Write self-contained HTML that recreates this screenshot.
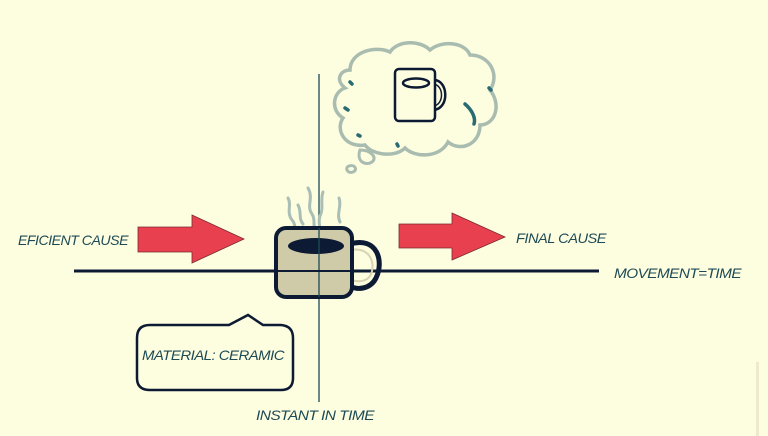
<!DOCTYPE html>
<html><head><style>
html,body{margin:0;padding:0;background:#fdfde0;}
svg{display:block}
text{font-family:"Liberation Sans",sans-serif;font-style:italic;fill:#1d4a55;font-size:14px;letter-spacing:-0.5px}
</style></head><body>
<svg width="768" height="436" viewBox="0 0 768 436" xmlns="http://www.w3.org/2000/svg">
<rect width="768" height="436" fill="#fdfde0"/>
<rect x="756" y="362" width="3" height="74" fill="#efe9cf"/>
<line x1="319" y1="74" x2="319" y2="402" stroke="#1d4a55" stroke-width="1.3"/>
<line x1="74" y1="271" x2="599" y2="271" stroke="#0d1a33" stroke-width="3"/>
<path d="M138,227 L192,227 L192,215 L244,239 L192,263 L192,252 L138,252 Z" fill="#e8404f" stroke="#7a2a30" stroke-width="0.8"/>
<path d="M399,224 L452,224 L452,213 L505,237 L452,260 L452,248 L399,248 Z" fill="#e8404f" stroke="#7a2a30" stroke-width="0.8"/>
<g fill="none" stroke="#a9bfb6" stroke-width="3" stroke-linecap="round">
<path d="M288,198 C292,205 286,212 292,220 C296,224 294,228 296,230"/>
<path d="M298,205 C302,212 298,218 303,224"/>
<path d="M308,188 C314,198 306,206 312,214 C316,220 312,226 316,230"/>
<path d="M323,192 C320,200 324,208 320,216 C318,222 320,226 320,230"/>
<path d="M339,198 C342,206 336,214 340,222"/>
</g>
<path d="M350,244 C378,236 384,262 376,278 C370,290 356,290 350,286" fill="none" stroke="#0d1a33" stroke-width="5"/>
<path d="M350,250 C372,246 376,266 370,276 C366,282 358,282 350,280" fill="none" stroke="#d8d4b2" stroke-width="2"/>
<rect x="276" y="228" width="76" height="69" rx="10" fill="#cfcaa8" stroke="#0d1a33" stroke-width="4"/>
<ellipse cx="316" cy="246" rx="28" ry="8" fill="#0d1a33"/>
<line x1="319" y1="228" x2="319" y2="297" stroke="#1d4a55" stroke-width="1.3"/>
<line x1="276" y1="271" x2="352" y2="271" stroke="#0d1a33" stroke-width="2"/>
<g fill="none" stroke="#a9bcb0" stroke-width="3.5">
<path d="M350,70 C350,52 375,45 390,52 C398,40 420,40 430,50 C442,40 465,42 470,55 C490,55 500,75 490,90 C502,105 495,125 480,125 C480,145 460,152 448,142 C440,158 415,158 405,148 C395,158 372,155 365,145 C345,148 335,130 343,118 C330,110 333,92 345,88 C335,80 340,70 350,70 Z"/>
<path d="M360,150 C370,150 378,157 372,162 C366,166 356,162 360,150 Z" stroke-width="3"/>
<path d="M349,166 C355,164 358,170 353,172 C348,174 344,168 349,166 Z" stroke-width="3"/>
</g>
<g stroke="#2a6b73" stroke-width="3.5" fill="none" stroke-linecap="round">
<path d="M465,104 C472,110 476,118 474,124"/>
<path d="M350,82 L352,84"/><path d="M345,108 L348,110"/><path d="M358,135 L360,136"/><path d="M397,144 L398,146"/><path d="M489,88 L491,90"/>
</g>
<path d="M434,80 C448,80 450,108 434,110" fill="none" stroke="#0d1a33" stroke-width="2.5"/>
<path d="M434,84 C444,86 444,104 434,106" fill="none" stroke="#0d1a33" stroke-width="1.5"/>
<rect x="395" y="69" width="40" height="52" rx="4" fill="#fdfde0" stroke="#0d1a33" stroke-width="2.5"/>
<ellipse cx="416" cy="83" rx="13" ry="4.5" fill="none" stroke="#0d1a33" stroke-width="2.5"/>
<path d="M150,325 L229,325 L248,315 L263,325 L281,325 Q293,326 293,338 L293,378 Q293,390 281,390 L150,390 Q137,390 137,378 L137,338 Q137,325 150,325 Z" fill="none" stroke="#0d1a33" stroke-width="2.5"/>
<text x="18" y="245" textLength="110" lengthAdjust="spacingAndGlyphs">EFICIENT CAUSE</text>
<text x="516" y="243" textLength="90" lengthAdjust="spacingAndGlyphs">FINAL CAUSE</text>
<text x="614" y="278" textLength="127" lengthAdjust="spacingAndGlyphs">MOVEMENT=TIME</text>
<text x="142" y="360" textLength="142" lengthAdjust="spacingAndGlyphs">MATERIAL: CERAMIC</text>
<text x="256" y="420" textLength="118" lengthAdjust="spacingAndGlyphs">INSTANT IN TIME</text>
</svg>
</body></html>
